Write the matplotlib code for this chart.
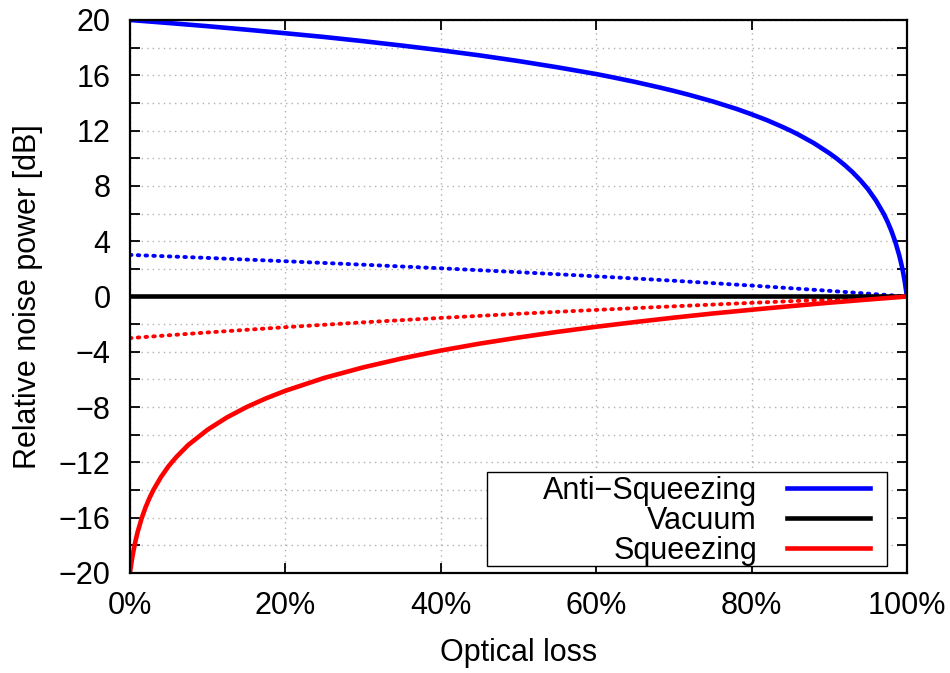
import numpy as np
import matplotlib
matplotlib.use("Agg")
import matplotlib.pyplot as plt
from matplotlib.patches import Rectangle
from matplotlib.ticker import MultipleLocator, FuncFormatter

plt.rcParams['font.family'] = ['Liberation Sans', 'DejaVu Sans']
plt.rcParams['axes.unicode_minus'] = True

# Optical loss (fraction) and noise power in dB
loss_anti = [0.0, 0.05, 0.1, 0.15, 0.2, 0.25, 0.3, 0.35, 0.4, 0.45, 0.5, 0.55, 0.6, 0.62,
             0.65, 0.68, 0.7, 0.72, 0.75, 0.78, 0.8, 0.82, 0.84, 0.85, 0.86, 0.88, 0.9,
             0.91, 0.92, 0.93, 0.94, 0.95, 0.96, 0.97, 0.975, 0.98, 0.985, 0.99, 0.993,
             0.995, 0.997, 1.0]
anti_squeezing = [20.0, 19.78, 19.55, 19.30, 19.04, 18.77, 18.47, 18.15, 17.81, 17.44, 17.03,
                  16.58, 16.09, 15.87, 15.52, 15.14, 14.87, 14.58, 14.11, 13.58, 13.18, 12.75,
                  12.26, 12.00, 11.72, 11.10, 10.37, 9.96, 9.50, 8.99, 8.41, 7.75, 6.95, 5.99,
                  5.41, 4.74, 3.95, 2.99, 2.29, 1.75, 1.13, 0.0]

loss_sq = [0.0, 0.0025, 0.005, 0.0075, 0.01, 0.015, 0.02, 0.025, 0.03, 0.04, 0.05, 0.06,
           0.075, 0.1, 0.125, 0.15, 0.175, 0.2, 0.25, 0.3, 0.35, 0.4, 0.45, 0.5, 0.55, 0.6,
           0.65, 0.7, 0.75, 0.8, 0.85, 0.9, 0.95, 1.0]
squeezing = [-20.0, -19.04, -18.25, -17.59, -17.01, -16.05, -15.26, -14.59, -14.01, -13.05,
             -12.25, -11.59, -10.74, -9.63, -8.74, -8.00, -7.37, -6.82, -5.89, -5.13, -4.48,
             -3.91, -3.41, -2.97, -2.56, -2.19, -1.85, -1.53, -1.23, -0.96, -0.70, -0.45,
             -0.22, 0.0]

loss_line = [0.0, 0.1, 0.2, 0.3, 0.4, 0.5, 0.6, 0.7, 0.8, 0.9, 1.0]
anti_3db = [3.01, 2.79, 2.55, 2.30, 2.04, 1.76, 1.46, 1.14, 0.79, 0.41, 0.0]
sq_3db = [-3.01, -2.60, -2.22, -1.87, -1.55, -1.25, -0.97, -0.71, -0.46, -0.22, 0.0]
vacuum = [0.0] * len(loss_line)

labels = ['Anti\u2212Squeezing', 'Vacuum', 'Squeezing']

fig = plt.figure(figsize=(9.5, 6.73), dpi=100)
ax = fig.add_axes([0.1368, 0.1486, 0.8179, 0.8217])

ax.plot(loss_line, anti_3db, color='#0000ff', lw=2.8, ls=(0, (0.4, 1.6)),
        dash_capstyle='round')
ax.plot(loss_line, sq_3db, color='#ff0000', lw=2.8, ls=(0, (0.4, 1.6)),
        dash_capstyle='round')
ax.plot(loss_anti, anti_squeezing, color='#0000ff', lw=3.3, label=labels[0])
ax.plot(loss_line, vacuum, color='black', lw=3.3, label=labels[1])
ax.plot(loss_sq, squeezing, color='#ff0000', lw=3.3, label=labels[2])

ax.set_xlim(0, 1)
ax.set_ylim(-20, 20)
ax.xaxis.set_major_locator(MultipleLocator(0.2))
ax.xaxis.set_major_formatter(FuncFormatter(lambda v, p: f"{v*100:.0f}%"))
ax.yaxis.set_major_locator(MultipleLocator(4))
ax.yaxis.set_minor_locator(MultipleLocator(2))
ax.yaxis.set_major_formatter(FuncFormatter(lambda v, p: f"{v:.0f}".replace('-', '\u2212')))

ax.grid(True, which='both', color='#b0b0b0', ls=(0, (1, 3)), lw=1)
ax.tick_params(which='both', direction='in', top=True, right=True, length=7,
               width=1.3, labelsize=22)
ax.tick_params(axis='x', pad=13)
ax.tick_params(axis='y', pad=14)
for s in ax.spines.values():
    s.set_linewidth(1.6)

ax.set_xlabel('Optical loss', fontsize=22, labelpad=12)
ax.set_ylabel('Relative noise power [dB]', fontsize=22, labelpad=11)

# legend box drawn separately so the entries can sit right-aligned inside a wider frame
box = Rectangle((0.4595, 0.0127), 0.5145, 0.17, transform=ax.transAxes,
                facecolor='white', edgecolor='black', lw=1, zorder=4)
ax.add_patch(box)
leg = ax.legend(loc='lower right', bbox_to_anchor=(0.9524, 0.0125), borderaxespad=0,
                markerfirst=False, fontsize=22, frameon=False, handlelength=2.7,
                labelspacing=0.0, borderpad=0, handletextpad=1.0)
leg.set_zorder(5)
for t in leg.get_texts():
    t.set_ha('right')

fig.savefig('out.png', dpi=100)
